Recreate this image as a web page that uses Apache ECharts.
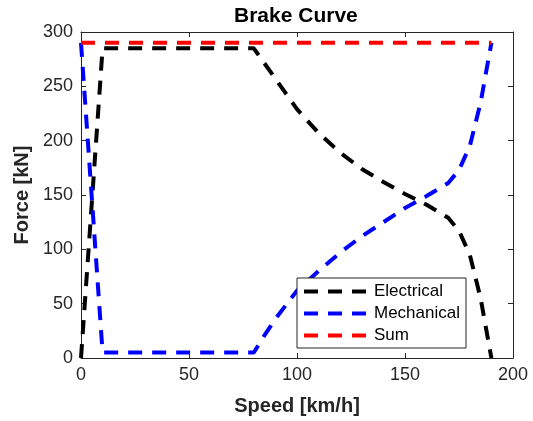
<!DOCTYPE html>
<html>
<head>
<meta charset="utf-8">
<script src="https://cdn.jsdelivr.net/npm/echarts@6/dist/echarts.min.js"></script>
<style>
html,body{margin:0;padding:0;background:#fff;}
#chart{width:533px;height:421px;}
</style>
</head>
<body>
<div id="chart"></div>
<script>
// Data
const speedsEl  = [0, 10, 80, 85, 90, 95, 100, 110, 120, 130, 140, 150, 160, 170, 175, 180, 185, 190];
const electrical = [0, 285, 285, 271, 257, 243, 229, 207, 189, 174, 162, 151, 141, 129, 117, 95, 55, 0];
const speedsMech = [0, 10, 80, 85, 90, 95, 100, 110, 120, 130, 140, 150, 160, 170, 175, 180, 185, 190];
const mechanical = [290, 5, 5, 21, 36, 49, 62, 80, 97, 112, 125, 138, 149, 161, 173, 195, 235, 290];
const speedsSum = [0, 190];
const sumForce  = [290, 290];
const xTicks = [0, 50, 100, 150, 200];
const yTicks = [0, 50, 100, 150, 200, 250, 300];

function pairs(xs, ys) { return xs.map((x, i) => [x, ys[i]]); }

const FONT = 'Liberation Sans, Arial, Helvetica, sans-serif';
const AX = '#262626';
const dash = [14, 10];

const chart = echarts.init(document.getElementById('chart'), null, {renderer: 'canvas'});

const baseAxis = {
  axisLine: {show: true, onZero: false, lineStyle: {color: AX, width: 1}},
  axisTick: {show: true, inside: true, length: 5, lineStyle: {color: AX, width: 1}},
  splitLine: {show: false}
};

chart.setOption({
  animation: false,
  backgroundColor: '#fff',
  title: {
    text: 'Brake Curve',
    left: 234,
    top: 6,
    padding: 0,
    textStyle: {fontFamily: FONT, fontSize: 21, fontWeight: 'bold', color: '#000'}
  },
  grid: {left: 81, right: 20, top: 32, bottom: 62, containLabel: false},
  legend: {
    orient: 'vertical',
    left: 297,
    top: 278,
    width: 170,
    padding: [5, 6, 4, 5],
    itemGap: 5,
    itemWidth: 63,
    itemHeight: 17,
    backgroundColor: '#fff',
    borderColor: AX,
    borderWidth: 1,
    borderRadius: 0,
    itemStyle: {opacity: 0, borderWidth: 0},
    lineStyle: {width: 4, type: dash, cap: 'butt'},
    textStyle: {fontFamily: FONT, fontSize: 17, color: '#000', padding: [0, 0, 0, 2]},
    data: ['Electrical', 'Mechanical', 'Sum']
  },
  xAxis: [
    Object.assign({}, baseAxis, {
      type: 'value', min: 0, max: 200, interval: 50, position: 'bottom',
      name: 'Speed [km/h]', nameLocation: 'middle', nameGap: 38,
      nameTextStyle: {fontFamily: FONT, fontSize: 20, fontWeight: 'bold', color: AX},
      axisLabel: {show: true, margin: 8, fontFamily: FONT, fontSize: 18, color: AX,
        customValues: xTicks}
    }),
    Object.assign({}, baseAxis, {
      type: 'value', min: 0, max: 200, interval: 50, position: 'top',
      axisLabel: {show: false}
    })
  ],
  yAxis: [
    Object.assign({}, baseAxis, {
      type: 'value', min: 0, max: 300, interval: 50, position: 'left',
      name: 'Force [kN]', nameLocation: 'middle', nameGap: 48,
      nameTextStyle: {fontFamily: FONT, fontSize: 20, fontWeight: 'bold', color: AX},
      axisLabel: {show: true, margin: 8, fontFamily: FONT, fontSize: 18, color: AX,
        customValues: yTicks}
    }),
    Object.assign({}, baseAxis, {
      type: 'value', min: 0, max: 300, interval: 50, position: 'right',
      axisLabel: {show: false}
    })
  ],
  series: [
    {
      name: 'Electrical', type: 'line', xAxisIndex: 0, yAxisIndex: 0,
      data: pairs(speedsEl, electrical),
      symbol: 'none', showSymbol: false, clip: false,
      itemStyle: {color: '#000000'},
      lineStyle: {color: '#000000', width: 4, type: dash, cap: 'butt'}
    },
    {
      name: 'Mechanical', type: 'line', xAxisIndex: 0, yAxisIndex: 0,
      data: pairs(speedsMech, mechanical),
      symbol: 'none', showSymbol: false, clip: false,
      itemStyle: {color: '#0000ff'},
      lineStyle: {color: '#0000ff', width: 4, type: dash, cap: 'butt'}
    },
    {
      name: 'Sum', type: 'line', xAxisIndex: 0, yAxisIndex: 0,
      data: pairs(speedsSum, sumForce),
      symbol: 'none', showSymbol: false, clip: false,
      itemStyle: {color: '#ff0000'},
      lineStyle: {color: '#ff0000', width: 4, type: dash, cap: 'butt'}
    }
  ]
});
</script>
</body>
</html>
